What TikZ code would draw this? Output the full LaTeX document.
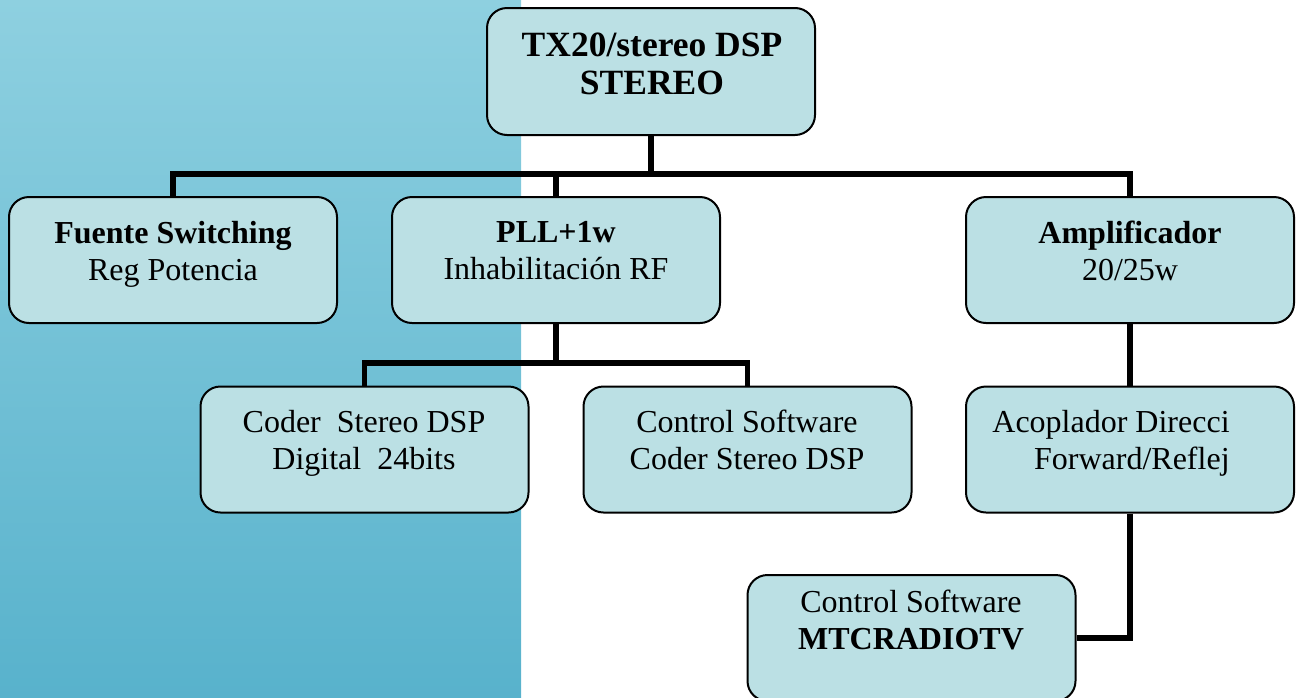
\documentclass[tikz,border=0pt]{standalone}
\usepackage{fontspec}
\setmainfont{Liberation Serif}
\definecolor{fondoA}{RGB}{142,208,224}
\definecolor{fondoB}{RGB}{88,178,204}
\definecolor{cajaazul}{RGB}{187,224,228}
\tikzset{
  bloque/.style={draw=black, line width=2pt, rounded corners=20pt, fill=cajaazul,
    minimum width=328pt, minimum height=126pt, inner sep=0pt},
  texto/.style={anchor=north, align=center, inner sep=0pt,
    font=\fontsize{32}{37}\selectfont},
  conector/.style={line width=5.5pt, black}
}
\begin{document}
\begin{tikzpicture}[x=1pt, y=-1pt]
    \useasboundingbox (0,0) rectangle (1297,697);

    % fondo
    \shade[top color=fondoA, bottom color=fondoB] (0,0) rectangle (521,697);

    % cajas
    \node[bloque, minimum height=127pt] (tx) at (651, 71.5) {};
    \node[bloque] (fuente) at (173, 260) {};
    \node[bloque] (pll) at (556, 260) {};
    \node[bloque] (amp) at (1130, 260) {};
    \node[bloque] (coder) at (364.5, 449.5) {};
    \node[bloque] (ctrl) at (747.5, 449.5) {};
    \node[bloque] (acop) at (1130, 449.5) {};
    \node[bloque] (mtc) at (911.5, 638) {};

    % textos
    \node[texto, font=\fontsize{35.5}{38}\selectfont] (tx-t) at (652, 33) {\bfseries TX20/stereo DSP\\\bfseries STEREO};
    \node[texto] (fuente-t) at (173, 221) {\bfseries Fuente Switching\\Reg Potencia};
    \node[texto] (pll-t) at (556, 221) {\bfseries PLL+1w\\Inhabilitación RF};
    \node[texto] (amp-t) at (1130, 221) {\bfseries Amplificador\\20/25w};
    \node[texto] (coder-t) at (364, 410) {Coder\ \ Stereo DSP\\Digital\ \ 24bits};
    \node[texto] (ctrl-t) at (747, 410) {Control Software\\Coder Stereo DSP};
    \node[texto, align=right] (acop-t) at (1111, 410) {Acoplador Direcci\\Forward/Reflej};
    \node[texto] (mtc-t) at (911, 590) {Control Software\\\bfseries MTCRADIOTV};

    % conectores
    \draw[conector] (tx.south) -- ++(0,38) coordinate (bus);
    \draw[conector] (fuente.north) |- (bus) -| (amp.north);
    \draw[conector] (pll.north) -- (pll.north |- bus);
    \draw[conector] (pll.south) -- ++(0,39) coordinate (bus2);
    \draw[conector] (coder.north) |- (bus2) -| (ctrl.north);
    \draw[conector] (amp.south) -- (acop.north);
    \draw[conector] (acop.south) |- (mtc.east);
\end{tikzpicture}
\end{document}
